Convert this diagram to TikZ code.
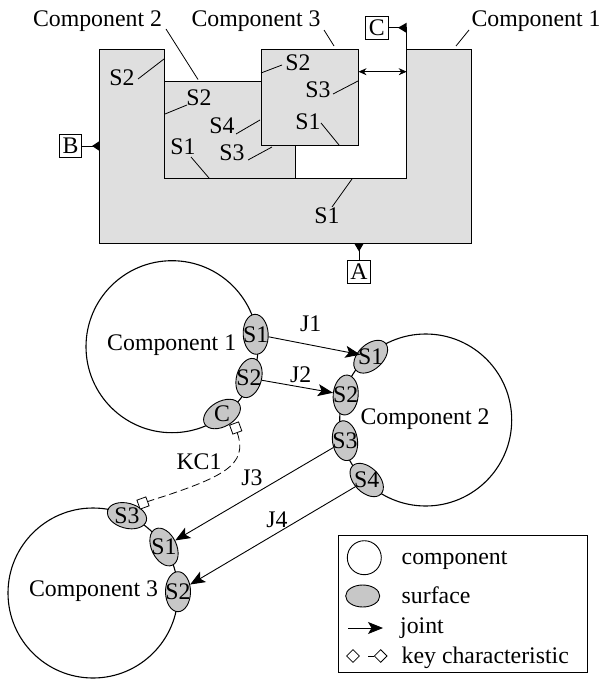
\documentclass[tikz,border=0pt]{standalone}
\usepackage{fontspec}
\setmainfont{Liberation Serif}
\usetikzlibrary{arrows.meta,shapes.geometric}
\definecolor{partgray}{gray}{0.875}
\definecolor{surfgray}{gray}{0.78}
\tikzset{
  part/.style={draw=black,fill=partgray,line width=1pt},
  lead/.style={draw=black,line width=0.8pt},
  lbl/.style={inner sep=0pt,font=\fontsize{23.8}{26}\selectfont},
  datumbox/.style={draw=black,fill=white,line width=0.8pt,minimum width=22.5pt,minimum height=22.5pt,inner sep=0pt,font=\fontsize{23.8}{26}\selectfont},
  comp/.style={circle,draw=black,line width=1.1pt,inner sep=0pt},
  surf/.style={ellipse,draw=black,fill=surfgray,line width=0.9pt,inner sep=0pt,minimum width=25pt,minimum height=40pt},
  kc/.style={rectangle,draw=black,fill=white,line width=0.8pt,inner sep=0pt,minimum width=9.5pt,minimum height=9.5pt,rotate=20},
  lkc/.style={diamond,draw=black,fill=white,line width=0.8pt,inner sep=0pt,minimum width=13pt,minimum height=13pt},
  joint/.style={draw=black,line width=0.9pt,-{Stealth[length=15pt,width=12pt,inset=3.5pt]}},
}
\begin{document}
\begin{tikzpicture}[x=1pt,y=-1pt]
\useasboundingbox (0,0) rectangle (600,679);
% --- top assembly
\path[part] (99.5,49.5) -- (164.5,49.5) -- (164.5,178.5) -- (406.7,178.5) -- (406.7,49.5) -- (471.3,49.5) -- (471.3,243) -- (99.5,243) -- cycle;
\path[part] (164.5,81.5) rectangle (295,178.5);
\path[part] (261,49.5) rectangle (358.5,146);
\node[lbl] (tc2) at (97.5,21) {Component 2};
\node[lbl] (tc3) at (256,21) {Component 3};
\node[lbl] (tc1) at (536,21) {Component 1};
\coordinate (tc2e) at (198,79.5); \draw[lead] (166,29) -- (tc2e);
\coordinate (tc3e) at (334,46); \draw[lead] (324,30) -- (tc3e);
\coordinate (tc1e) at (456,46); \draw[lead] (469,30) -- (tc1e);
\node[lbl] (a1) at (122,78) {S2};
\draw[lead] (138,79) -- (164,59);
\node[lbl] (b2) at (199,98) {S2};
\draw[lead] (165,114) -- (187,105);
\node[lbl] (b4) at (222,126) {S4};
\draw[lead] (236,134) -- (260,120);
\node[lbl] (b1) at (183,147) {S1};
\draw[lead] (191,157) -- (209,178);
\node[lbl] (b3) at (232,153) {S3};
\draw[lead] (248,160) -- (272,147);
\node[lbl] (c2) at (298,63) {S2};
\draw[lead] (261,73) -- (282,65);
\node[lbl] (c3) at (318,90) {S3};
\draw[lead] (333,94) -- (358,81);
\node[lbl] (c1) at (308,122) {S1};
\draw[lead] (321,123) -- (339,145);
\node[lbl] (a2) at (327,216) {S1};
\draw[lead] (332,207) -- (352,179);
\coordinate (gapL) at (358.5,71.7);
\coordinate (gapR) at (406.7,71.7);
\draw[lead,{Stealth[length=8pt,width=7pt]}-{Stealth[length=8pt,width=7pt]}] (gapL) -- (gapR);
% datums
\node[datumbox] (boxC) at (376.8,27.7) {C};
\node[datumbox] (boxB) at (70.5,146) {B};
\node[datumbox] (boxA) at (359,271.8) {A};
\draw[lead] (boxC.east) -- (406.7,27.7) -- (406.7,49.5);
\fill (398,27.7) -- (406.7,22.7) -- (406.7,33) -- cycle;
\draw[lead] (boxB.east) -- (99.5,146);
\fill (92,146) -- (99.5,141) -- (99.5,151) -- cycle;
\draw[lead] (boxA.north) -- (359,243);
\fill (359,251.5) -- (354,243) -- (364,243) -- cycle;
% --- graph
\node[comp,minimum size=172pt] (C1) at (172,346.7) {};
\node[comp,minimum size=172pt] (C2) at (425.7,420) {};
\node[comp,minimum size=170pt] (C3) at (93,593) {};
\node[lbl] at (171.7,345) {Component 1};
\node[lbl] at (425,419) {Component 2};
\node[lbl] at (93.5,591) {Component 3};
\node[surf,rotate=3] (s11) at (255.7,334.3) {};
\node[surf,rotate=-15] (s12) at (249,378) {};
\node[surf,rotate=-60] (s1c) at (222,414) {};
\node[surf,rotate=-47] (s21) at (370.7,356.7) {};
\node[surf,rotate=-5] (s22) at (345.7,395) {};
\node[surf,rotate=8] (s23) at (345,440.7) {};
\node[surf,rotate=45] (s24) at (366.7,480) {};
\node[surf,rotate=75] (s33) at (127,515.7) {};
\node[surf,rotate=25] (s31) at (164,547) {};
\node[surf,rotate=0] (s32) at (178,591.7) {};
\draw[joint,shorten >=-4pt] (s11) -- (s21);
\draw[joint] (s12) -- (s22);
\draw[joint] (s23) -- (s31);
\draw[joint] (s24) -- (s32);
\node[lbl] at (s11) {S1};
\node[lbl] at (s12) {S2};
\node[lbl] at (s1c) {C};
\node[lbl] at (s21) {S1};
\node[lbl] at (s22) {S2};
\node[lbl] at (s23) {S3};
\node[lbl] at (s24) {S4};
\node[lbl] at (s33) {S3};
\node[lbl] at (s31) {S1};
\node[lbl] at (s32) {S2};
\node[lbl] at (310.7,324) {J1};
\node[lbl] at (300.7,375) {J2};
\node[lbl] at (252,478) {J3};
\node[lbl] at (277,520) {J4};
\node[lbl] at (199,462) {KC1};
\node[kc] (kc1) at (235.7,428) {};
\node[kc] (kc2) at (143,503) {};
\draw[draw=black,line width=0.8pt,dash pattern=on 8pt off 4pt] (kc1) .. controls (248,465) and (225,477) .. (kc2);
% --- legend
\node[draw=black,line width=0.9pt,minimum width=249.4pt,minimum height=137pt,inner sep=0pt] (legend) at (463,604.2) {};
\node[circle,draw=black,line width=0.9pt,minimum size=34pt,inner sep=0pt] (lc) at (364.3,557.7) {};
\node[ellipse,draw=black,fill=surfgray,line width=0.9pt,minimum width=34pt,minimum height=22pt,inner sep=0pt] (ls) at (362.7,596) {};
\coordinate (lja) at (348,628); \coordinate (ljb) at (383,628);
\draw[joint] (lja) -- (ljb);
\node[lkc] (lk1) at (353,656) {};
\node[lkc] (lk2) at (380.7,656) {};
\coordinate (lk0) at (368,656);
\draw[lead] (lk0) -- (lk2);
\node[lbl,anchor=base west] at (401.5,564) {component};
\node[lbl,anchor=base west] at (401.5,603) {surface};
\node[lbl,anchor=base west] at (400,633) {joint};
\node[lbl,anchor=base west] at (401.5,663) {key characteristic};
\end{tikzpicture}
\end{document}
